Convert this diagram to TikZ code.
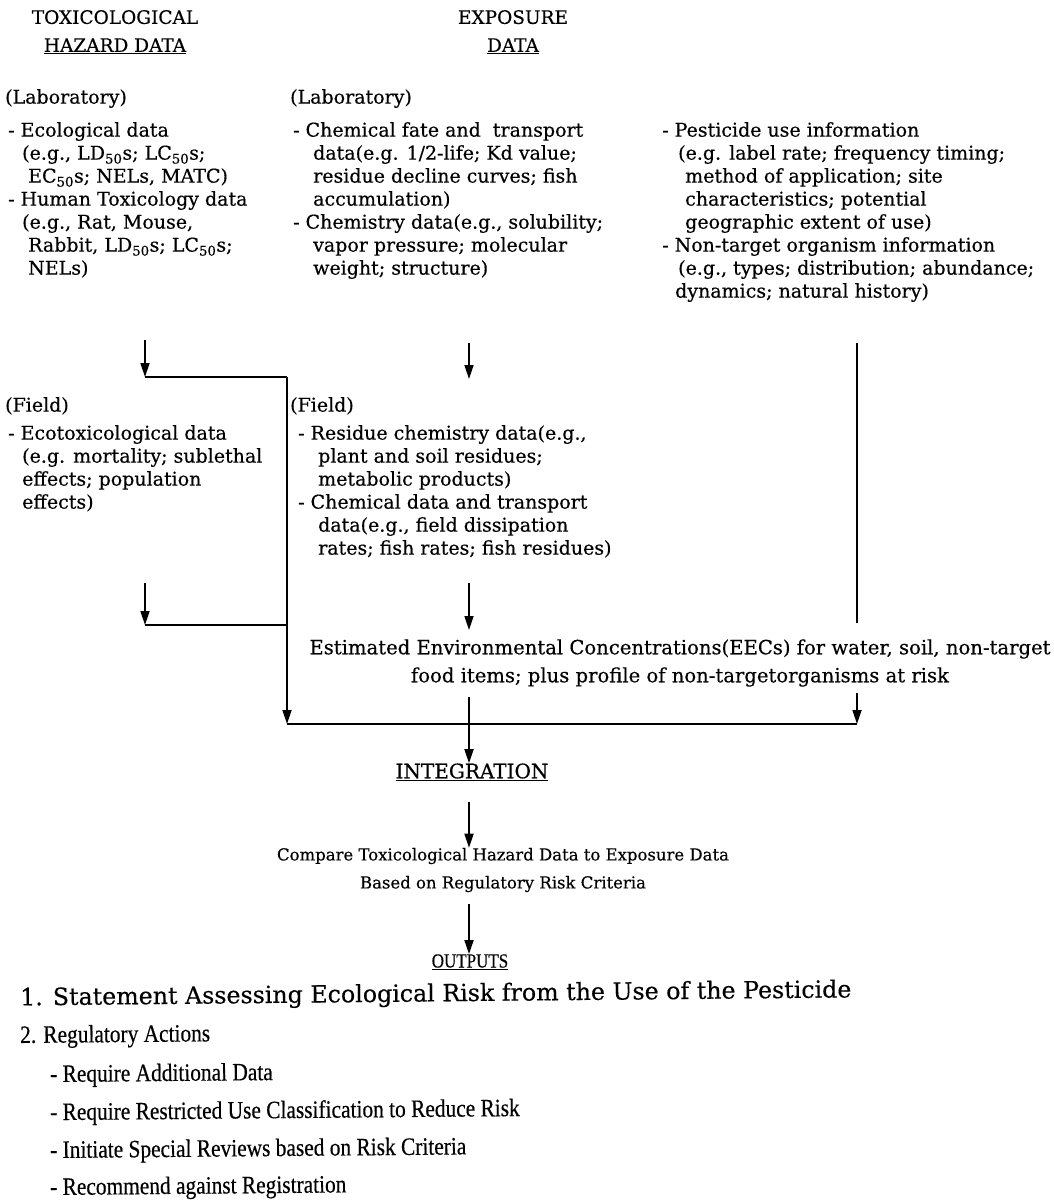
\documentclass[tikz,border=0pt]{standalone}
\usepackage{fontspec}
\setmainfont[FakeBold=0.4]{DejaVu Serif}
\newfontfamily\condf[FakeBold=0.4,FakeStretch=0.855]{Liberation Serif}
\newfontfamily\outf[FakeBold=0.4,FakeStretch=0.85]{Liberation Serif}
\newfontfamily\wide[FakeBold=0.4]{DejaVu Serif}
\usetikzlibrary{arrows.meta}
\begin{document}
\begin{tikzpicture}[x=1pt,y=-1pt,
  txt/.style={inner sep=0pt, anchor=north west, align=left, font=\fontsize{19}{23}\selectfont},
  ttl/.style={inner sep=0pt, align=center, font=\fontsize{18.5}{28}\selectfont},
  ctr/.style={inner sep=0pt, align=center, font=\fontsize{16.5}{28}\selectfont},
  eec/.style={inner sep=0pt, align=center, font=\fontsize{19.6}{28}\selectfont},
  outl/.style={inner sep=0pt, anchor=west, font=\condf\fontsize{25}{28}\selectfont, rotate=0.5},
  arr/.style={-{Triangle[length=14pt,width=9pt]}, line width=1.7pt},
  ln/.style={line width=1.7pt}]
\useasboundingbox (0,0) rectangle (1053,1204);

% titles
\node[ttl] (toxt) at (115,32) {TOXICOLOGICAL\\\underline{HAZARD DATA}};
\node[ttl] (expt) at (513,32) {EXPOSURE\\\underline{DATA}};

% laboratory
\node[txt] (lablab) at (5,89) {(Laboratory)};
\node[txt] (midlab) at (290,89) {(Laboratory)};
\node[txt] (ecol) at (8,122) {- Ecological data\\
\hspace*{14pt}(e.g., LD\textsubscript{50}s; LC\textsubscript{50}s;\\
\hspace*{20pt}EC\textsubscript{50}s; NELs, MATC)\\
- Human Toxicology data\\
\hspace*{14pt}(e.g., Rat, Mouse,\\
\hspace*{20pt}Rabbit, LD\textsubscript{50}s; LC\textsubscript{50}s;\\
\hspace*{20pt}NELs)};
\node[txt] (chem) at (293,122) {- Chemical fate and\ \ transport\\
\hspace*{20pt}data(e.g. 1/2-life; Kd value;\\
\hspace*{20pt}residue decline curves; fish\\
\hspace*{20pt}accumulation)\\
- Chemistry data(e.g., solubility;\\
\hspace*{20pt}vapor pressure; molecular\\
\hspace*{20pt}weight; structure)};
\node[txt] (pest) at (662,122) {- Pesticide use information\\
\hspace*{16pt}(e.g. label rate; frequency timing;\\
\hspace*{23pt}method of application; site\\
\hspace*{23pt}characteristics; potential\\
\hspace*{23pt}geographic extent of use)\\
- Non-target organism information\\
\hspace*{16pt}(e.g., types; distribution; abundance;\\
\hspace*{13pt}dynamics; natural history)};

% field
\node[txt] (lfield) at (5,397) {(Field)};
\node[txt] (mfield) at (290,397) {(Field)};
\node[txt] (ecotox) at (8,425) {- Ecotoxicological data\\
\hspace*{14pt}(e.g. mortality; sublethal\\
\hspace*{14pt}effects; population\\
\hspace*{14pt}effects)};
\node[txt] (resid) at (298,425) {- Residue chemistry data(e.g.,\\
\hspace*{20pt}plant and soil residues;\\
\hspace*{20pt}metabolic products)\\
- Chemical data and transport\\
\hspace*{20pt}data(e.g., field dissipation\\
\hspace*{20pt}rates; fish rates; fish residues)};

% EEC
\node[eec] (eecs) at (680,663) {Estimated Environmental Concentrations(EECs) for water, soil, non-target\\
food items; plus profile of non-targetorganisms at risk};

% integration and outputs
\node[inner sep=0pt, font=\fontsize{20}{24}\selectfont] (integ) at (472,772) {\underline{INTEGRATION}};
\node[ctr] (comp) at (503,870) {Compare Toxicological Hazard Data to Exposure Data\\Based on Regulatory Risk Criteria};
\node[inner sep=0pt, font=\outf\fontsize{20}{24}\selectfont] (outp) at (470,962) {\underline{OUTPUTS}};

\node[inner sep=0pt, anchor=west, font=\wide\fontsize{23.7}{26}\selectfont, rotate=0.55] (o1) at (20,999) {1. Statement Assessing Ecological Risk from the Use of the Pesticide};
\node[outl] (o2) at (20,1037) {2. Regulatory Actions};
\node[outl] (o3) at (50,1076) {- Require Additional Data};
\node[outl] (o4) at (50,1114) {- Require Restricted Use Classification to Reduce Risk};
\node[outl] (o5) at (50,1152) {- Initiate Special Reviews based on Risk Criteria};
\node[outl] (o6) at (50,1189) {- Recommend against Registration};

% connector coordinates
\coordinate (l1s) at (145,340);
\coordinate (l1e) at (145,377);
\coordinate (lcorner) at (287,377);
\coordinate (lbot) at (287,724);
\coordinate (m1s) at (469,343);
\coordinate (m1e) at (469,379);
\coordinate (l2s) at (145,583);
\coordinate (l2e) at (145,625);
\coordinate (ljoin) at (287,625);
\coordinate (m2s) at (469,583);
\coordinate (m2e) at (469,630);
\coordinate (rtop) at (857,343);
\coordinate (rmid) at (857,623);
\coordinate (r2s) at (857,693);
\coordinate (rbot) at (857,724);
\coordinate (m3s) at (469,697);
\coordinate (m4s) at (469,802);
\coordinate (m5s) at (469,904);

% connectors
\draw[arr] (l1s) -- (l1e);
\draw[ln] (l1e) -- (lcorner);
\draw[arr] (lcorner) -- (lbot);
\draw[arr] (m1s) -- (m1e);
\draw[arr] (l2s) -- (l2e);
\draw[ln] (l2e) -- (ljoin);
\draw[arr] (m2s) -- (m2e);
\draw[ln] (rtop) -- (rmid);
\draw[arr] (r2s) -- (rbot);
\draw[ln] (lbot) -- (rbot);
\draw[arr] (m3s) -- (m3s |- integ.north);
\draw[arr] (m4s) -- (m4s |- comp.north);
\draw[arr] (m5s) -- (m5s |- outp.north);
\end{tikzpicture}
\end{document}
